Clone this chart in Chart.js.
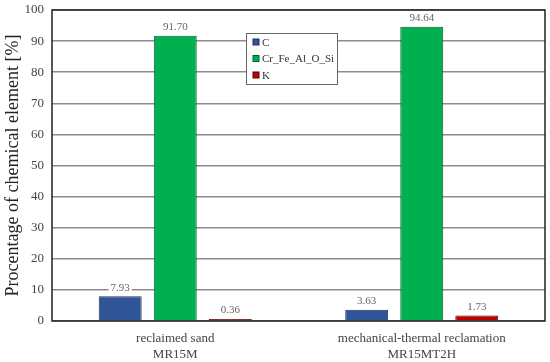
<!DOCTYPE html>
<html>
<head>
<meta charset="utf-8">
<script src="https://cdn.jsdelivr.net/npm/chart.js@4.4.0/dist/chart.umd.min.js"></script>
<style>
  html, body { margin: 0; padding: 0; background: #fff; }
  #wrap { width: 550px; height: 362px; }
</style>
</head>
<body>
<div id="wrap"><canvas id="myChart" width="550" height="362"></canvas></div>
<script>
// data
const categories = [['reclaimed sand', 'MR15M'], ['mechanical-thermal reclamation', 'MR15MT2H']];
const seriesNames = ['C', 'Cr_Fe_Al_O_Si', 'K'];
const cValues = [7.93, 3.63];
const oxideValues = [91.70, 94.64];
const kValues = [0.36, 1.73];
const yTicks = [0, 10, 20, 30, 40, 50, 60, 70, 80, 90, 100];

const fills = ['#2F5597', '#00B050', '#C00000'];
const edges = ['#1f3560', '#0b5e2c', '#5a0000'];
const serif = '"Liberation Serif", "DejaVu Serif", serif';

// value labels on top of each bar, white behind so the grid breaks
const valueLabels = {
  id: 'valueLabels',
  afterDatasetsDraw(chart) {
    const ctx = chart.ctx;
    ctx.save();
    ctx.font = '11px ' + serif;
    ctx.textAlign = 'center';
    ctx.textBaseline = 'bottom';
    chart.data.datasets.forEach((ds, i) => {
      chart.getDatasetMeta(i).data.forEach((bar, j) => {
        const txt = ds.data[j].toFixed(2);
        const w = ctx.measureText(txt).width + 4;
        const y = bar.y - 3;
        ctx.fillStyle = '#fff';
        ctx.fillRect(bar.x - w / 2, y - 12, w, 12);
        ctx.fillStyle = '#666';
        ctx.fillText(txt, bar.x, y);
      });
    });
    ctx.restore();
  }
};

// plot frame + legend box inside the plot
const frameAndLegend = {
  id: 'frameAndLegend',
  afterDraw(chart) {
    const ctx = chart.ctx;
    const a = chart.chartArea;
    ctx.save();
    ctx.strokeStyle = '#222';
    ctx.lineWidth = 1.5;
    ctx.strokeRect(a.left, a.top, a.right - a.left, a.bottom - a.top);

    const bx = 246, by = 33, bw = 91, bh = 51;
    ctx.fillStyle = '#fff';
    ctx.fillRect(bx, by, bw, bh);
    ctx.strokeStyle = '#666';
    ctx.lineWidth = 1;
    ctx.strokeRect(bx + 0.5, by + 0.5, bw, bh);
    ctx.font = '11px ' + serif;
    ctx.textBaseline = 'middle';
    chart.data.datasets.forEach((ds, i) => {
      const y = by + 9 + i * 16.5;
      ctx.fillStyle = ds.backgroundColor;
      ctx.fillRect(bx + 7, y - 3, 6, 6);
      ctx.strokeStyle = ds.borderColor;
      ctx.strokeRect(bx + 7, y - 3, 6, 6);
      ctx.fillStyle = '#333';
      ctx.fillText(ds.label, bx + 16, y + 1);
    });
    ctx.restore();
  }
};

const ctx = document.getElementById('myChart').getContext('2d');
window.chart = new Chart(ctx, {
  type: 'bar',
  data: {
    labels: categories,
    datasets: [cValues, oxideValues, kValues].map((vals, i) => ({
      label: seriesNames[i],
      data: vals,
      backgroundColor: fills[i],
      borderColor: edges[i],
      borderWidth: 1,
      minBarLength: 2,
      categoryPercentage: 0.67,
      barPercentage: 0.78
    }))
  },
  options: {
    responsive: false,
    animation: false,
    layout: { padding: { left: 0, right: 5, top: 10, bottom: 0 } },
    plugins: {
      legend: { display: false },
      tooltip: { enabled: false }
    },
    scales: {
      x: {
        grid: { display: false },
        border: { display: false },
        ticks: { color: '#444', font: { family: serif, size: 13 }, padding: 2, maxRotation: 0 },
        afterFit(s) { s.height = 41; }
      },
      y: {
        min: 0, max: 100,
        afterBuildTicks(s) { s.ticks = yTicks.map(v => ({ value: v })); },
        grid: { color: '#8c8c8c', lineWidth: 1.5, drawTicks: false },
        border: { display: false },
        ticks: { color: '#444', font: { family: serif, size: 13 }, padding: 8 },
        title: { display: true, text: 'Procentage of chemical element [%]', color: '#222', font: { family: serif, size: 18 }, padding: 2 },
        afterFit(s) { s.width = 52; s.paddingTop = 0; s.paddingBottom = 0; }
      }
    }
  },
  plugins: [valueLabels, frameAndLegend]
});
</script>
</body>
</html>
